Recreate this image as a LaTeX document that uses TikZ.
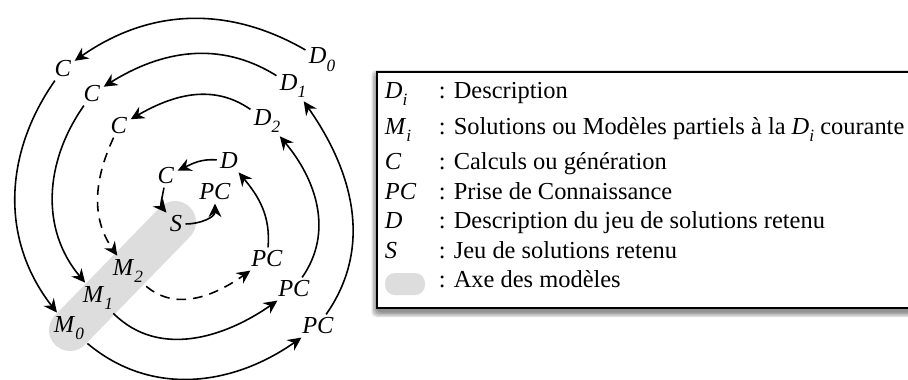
\documentclass[tikz,border=0pt]{standalone}
\usepackage{fontspec}
\setmainfont{Liberation Serif}
\usetikzlibrary{arrows.meta}
\definecolor{axegray}{RGB}{221,221,221}
\newcommand{\idx}[2]{\textit{#1}\raisebox{-0.32em}{\fontsize{9.8}{10}\selectfont\textit{#2}}}

\begin{document}
\begin{tikzpicture}[>={Stealth[length=2.7mm,width=2.6mm,inset=0.9mm]}, line width=0.9pt,
  every node/.style={font=\fontsize{13.9}{16}\selectfont, inner sep=1.5pt},
  partial/.style={dash pattern=on 5.5pt off 4pt}]
\useasboundingbox (0,0) rectangle (18.16,7.58);
% axe des modeles
\coordinate (a0) at (1.40,0.98);
\coordinate (a1) at (3.50,3.14);
\draw[axegray, line width=0.84cm, line cap=round] (a0) -- (a1);
% descriptions
\node (d0) at (6.44,6.39) {\idx{D}{0}};
\node (d1) at (5.86,5.86) {\idx{D}{1}};
\node (d2) at (5.34,5.16) {\idx{D}{2}};
\node (d) at (4.58,4.36) {\textit{D}};
% calculs
\node (c0) at (1.26,6.20) {\textit{C}};
\node (c1) at (1.84,5.70) {\textit{C}};
\node (c2) at (2.38,5.06) {\textit{C}};
\node (c) at (3.32,4.06) {\textit{C}};
% modeles
\node (m0) at (1.38,1.02) {\idx{M}{0}};
\node (m1) at (1.96,1.62) {\idx{M}{1}};
\node (m2) at (2.56,2.16) {\idx{M}{2}};
\node (s) at (3.52,3.10) {\textit{S}};
% prises de connaissance
\node (pc0) at (6.36,1.06) {\textit{PC}};
\node (pc1) at (5.88,1.80) {\textit{PC}};
\node (pc2) at (5.34,2.40) {\textit{PC}};
\node (pc) at (4.30,3.74) {\textit{PC}};
% spirale
\draw[->] (d0) to[out=150,in=35] (c0);
\draw[->] (c0) to[out=235,in=128] (m0);
\draw[->] (m0) to[out=-40,in=215] (pc0);
\draw[->] (pc0) to[out=55,in=305] (d1);
\draw[->] (d1) to[out=148,in=32] (c1);
\draw[->] (c1) to[out=235,in=130] (m1);
\draw[->] (m1) to[out=-45,in=215] (pc1);
\draw[->] (pc1) to[out=55,in=310] (d2);
\draw[->] (d2) to[out=145,in=30] (c2);
\draw[->,partial] (c2) to[out=245,in=125] (m2);
\draw[->,partial] (m2) to[out=-40,in=215] (pc2);
\draw[->] (pc2) to[out=85,in=-50] (d);
\draw[->] (d) to[out=175,in=25] (c);
\draw[->] (c) to[out=260,in=130] (s);
\draw[->] (s) to[out=0,in=-90] (pc);
% legende
\foreach \r in {0.02,0.05,0.08,0.11}
  \fill[black, opacity=0.13, rounded corners=0.1cm] ({7.54-\r},{1.35-\r}) rectangle ({18.4+\r},{6.07+\r});
\draw[fill=white, line width=0.6pt] (7.54,1.42) rectangle (18.4,6.14);
\node[anchor=base west] (ld0) at (7.63,5.62) {\idx{D}{i}};
\node[anchor=base west] (lt0) at (8.71,5.62) {: Description};
\node[anchor=base west] (ld1) at (7.63,4.90) {\idx{M}{i}};
\node[anchor=base west] (lt1) at (8.71,4.90) {: Solutions ou Modèles partiels à la \idx{D}{i} courante};
\node[anchor=base west] (ld2) at (7.63,4.20) {\textit{C}};
\node[anchor=base west] (lt2) at (8.71,4.20) {: Calculs ou génération};
\node[anchor=base west] (ld3) at (7.63,3.60) {\textit{PC}};
\node[anchor=base west] (lt3) at (8.71,3.60) {: Prise de Connaissance};
\node[anchor=base west] (ld4) at (7.63,3.02) {\textit{D}};
\node[anchor=base west] (lt4) at (8.71,3.02) {: Description du jeu de solutions retenu};
\node[anchor=base west] (ld5) at (7.63,2.42) {\textit{S}};
\node[anchor=base west] (lt5) at (8.71,2.42) {: Jeu de solutions retenu};
\fill[axegray, rounded corners=0.2cm] (7.70,1.68) rectangle (8.50,2.12);
\node[anchor=base west] (lt6) at (8.71,1.84) {: Axe des modèles};
\end{tikzpicture}
\end{document}
